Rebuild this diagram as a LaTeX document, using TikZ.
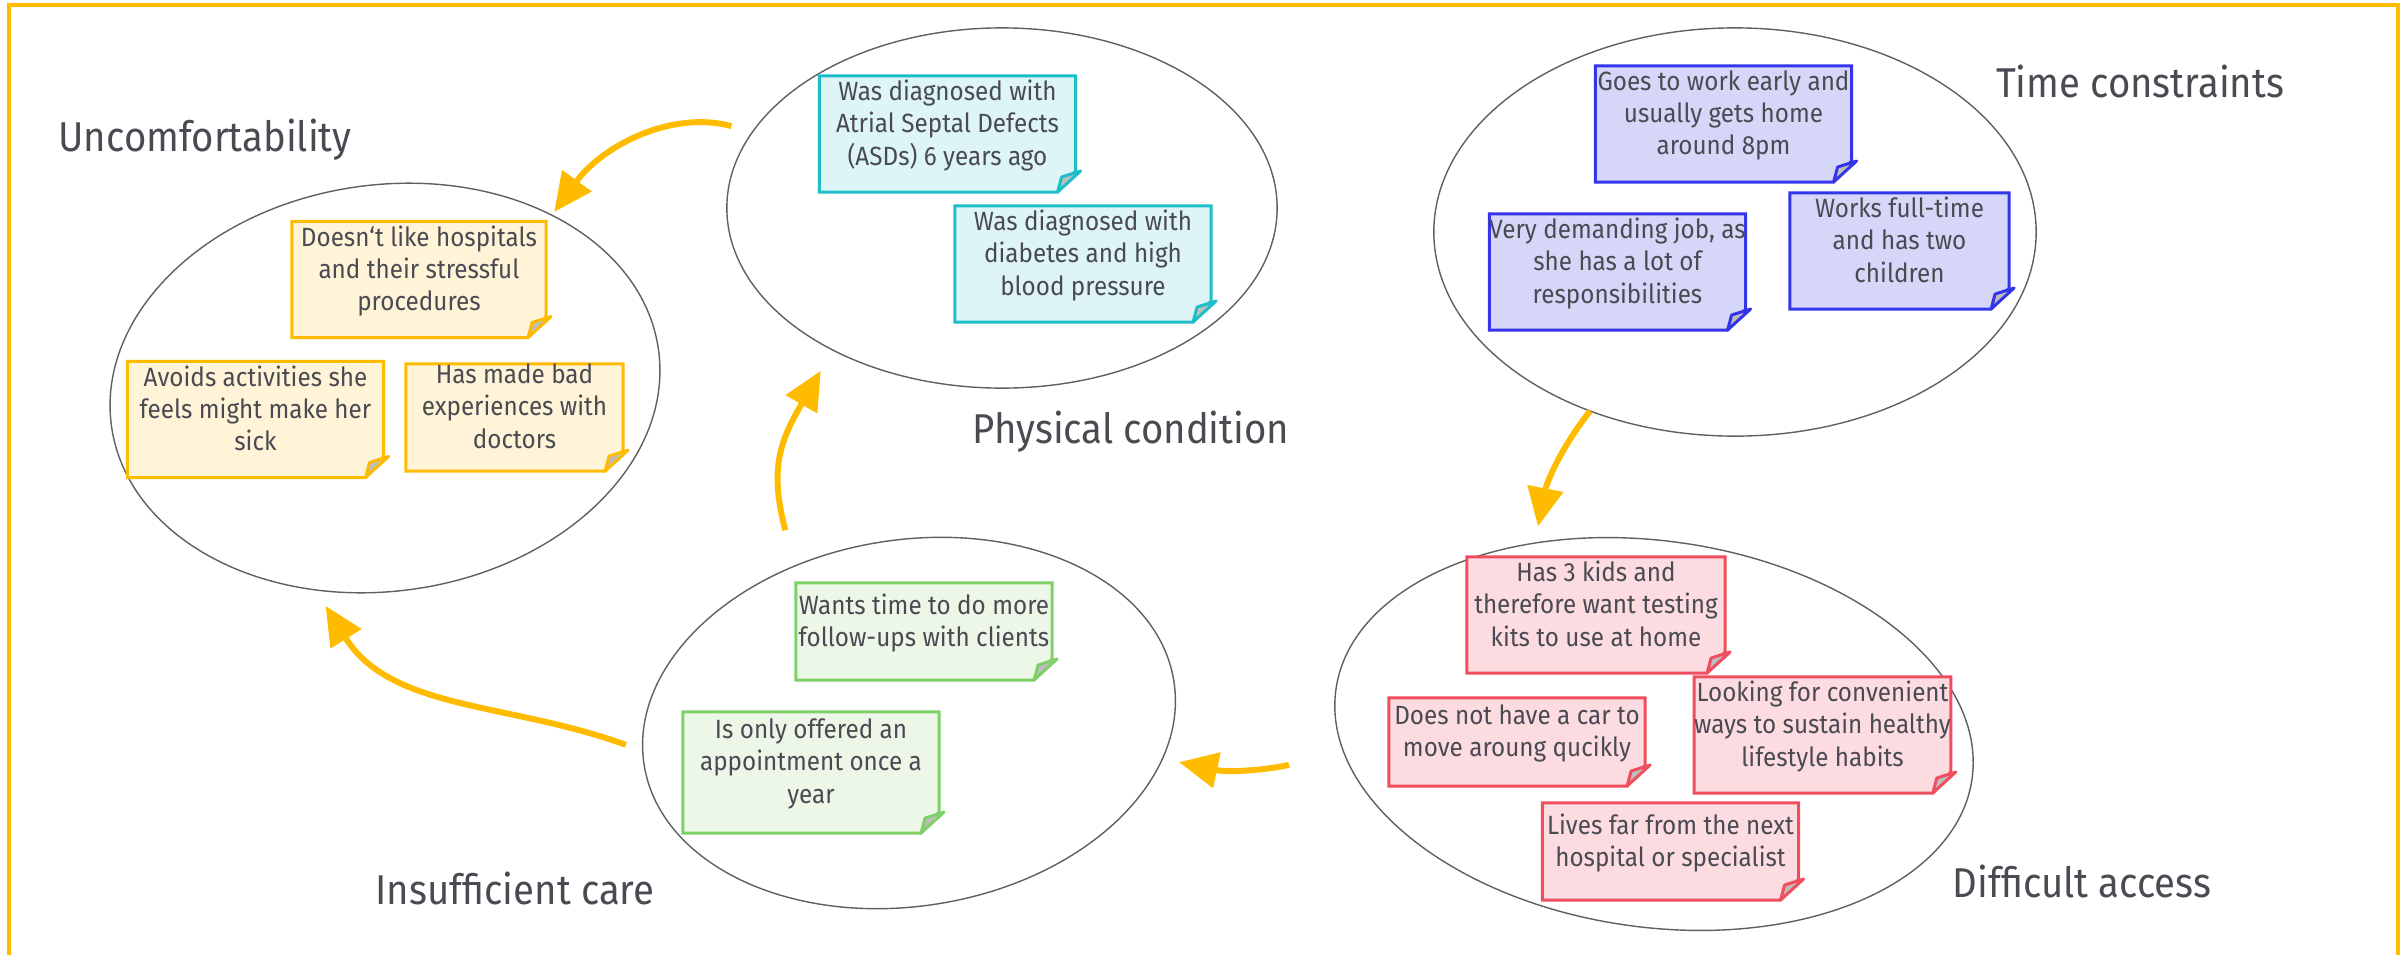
\documentclass[tikz,border=0pt]{standalone}
\usepackage{fontspec}
\setmainfont{Fira Sans}[FakeStretch=0.92]
\usetikzlibrary{arrows.meta,shapes.geometric}
\pgfdeclarelayer{paper}
\pgfsetlayers{paper,main}
\definecolor{yl}{RGB}{255,187,0}
\definecolor{ylfill}{RGB}{255,244,216}
\definecolor{tl}{RGB}{28,190,200}
\definecolor{tlfill}{RGB}{221,245,247}
\definecolor{bl}{RGB}{52,52,235}
\definecolor{blfill}{RGB}{214,214,248}
\definecolor{gn}{RGB}{128,208,106}
\definecolor{gnfill}{RGB}{237,247,232}
\definecolor{rd}{RGB}{240,78,94}
\definecolor{rdfill}{RGB}{252,220,225}
\definecolor{txt}{RGB}{74,74,82}
\definecolor{foldgray}{RGB}{190,190,190}
\begin{document}
\begin{tikzpicture}[x=0.01cm,y=-0.01cm,
  group/.style={ellipse,draw=gray!75!black,line width=0.4pt,inner sep=0pt,outer sep=0pt},
  note/.style={inner sep=0pt,outer sep=0pt,align=center,text=txt,text depth=6.5pt,
    font=\fontsize{7.5}{9.2}\selectfont,minimum width=2.56cm,minimum height=1.16cm},
  heading/.style={text=txt,font=\fontsize{11.85}{14}\selectfont,inner sep=0pt},
  flow/.style={draw=yl,line width=1.7pt,-{Triangle[length=11pt,width=10pt]}}]
                  \useasboundingbox (0,0) rectangle (2405,954);
                  \draw [yl,line width=1.14pt] (9,5) rectangle (2398,1000);
                  \begin{pgfonlayer}{paper}
                  \node [group,minimum width=5.52cm,minimum height=4.06cm,rotate=8] (unc) at (385,388) {};
                  \node [group,minimum width=5.5cm,minimum height=3.6cm] (phys) at (1002,208) {};
                  \node [group,minimum width=6.02cm,minimum height=4.08cm] (time) at (1735,232) {};
                  \node [group,minimum width=5.36cm,minimum height=3.66cm,rotate=9] (care) at (909,723) {};
                  \node [group,minimum width=6.42cm,minimum height=3.86cm,rotate=-8] (acc) at (1654,734) {};
                  \end{pgfonlayer}
                  \node [heading] (hunc) at (205,140) {Uncomfortability};
                  \node [heading] (hphys) at (1131,432) {Physical condition};
                  \node [heading] (htime) at (2140,81) {Time constraints};
                  \node [heading] (hacc) at (2082,881) {Difficult access};
                  \node [heading] (hcare) at (515,888) {Insufficient care};
                  \node [note,minimum width=2.54cm] (u1) at (419,279.5) {Doesn‘t like hospitals\\and their stressful\\procedures};
                  \node [note] (u2) at (255.5,419.5) {Avoids activities she\\feels might make her\\sick};
                  \node [note,minimum width=2.17cm,minimum height=1.07cm] (u3) at (514.5,417.5) {Has made bad\\experiences with\\doctors};
                  \node [note] (p1) at (947.5,134) {Was diagnosed with\\Atrial Septal Defects\\(ASDs) 6 years ago};
                  \node [note] (p2) at (1083,264) {Was diagnosed with\\diabetes and high\\blood pressure};
                  \node [note] (t1) at (1723.5,124) {Goes to work early and\\usually gets home\\around 8pm};
                  \node [note] (t2) at (1617.5,272) {Very demanding job, as\\she has a lot of\\responsibilities};
                  \node [note,minimum width=2.19cm] (t3) at (1899.5,251) {Works full-time\\and has two\\children};
                  \node [note,minimum height=0.97cm] (c1) at (924,631.5) {Wants time to do more\\follow-ups with clients};
                  \node [note,minimum height=1.21cm] (c2) at (811,772.5) {Is only offered an\\appointment once a\\year};
                  \node [note,minimum width=2.58cm] (a1) at (1596,615) {Has 3 kids and\\therefore want testing\\kits to use at home};
                  \node [note,minimum height=0.88cm] (a2) at (1517,742) {Does not have a car to\\move aroung qucikly};
                  \node [note] (a3) at (1822.5,735) {Looking for convenient\\ways to sustain healthy\\lifestyle habits};
                  \node [note,minimum height=0.97cm] (a4) at (1670.5,851.5) {Lives far from the next\\hospital or specialist};
                  \foreach \n/\c in {u1/yl,u2/yl,u3/yl,p1/tl,p2/tl,t1/bl,t2/bl,t3/bl,c1/gn,c2/gn,a1/rd,a2/rd,a3/rd,a4/rd} {
                    \begin{pgfonlayer}{paper}
                    \filldraw [fill=\c fill,draw=\c,line width=0.85pt] (\n.north west) -- (\n.north east) -- ([shift={(0,-21)}]\n.south east) -- ([shift={(-18,0)}]\n.south east) -- (\n.south west) -- cycle;
                    \end{pgfonlayer}
                    \filldraw [fill=foldgray,draw=\c,line width=0.85pt,line join=round] ([shift={(5,-21)}]\n.south east) -- ([shift={(-18,0)}]\n.south east) -- ([shift={(-14,-15)}]\n.south east) -- cycle;
                  }
                  \draw [flow,shorten <=0.22cm,shorten >=0.04cm] (phys.163) to[out=165,in=54] (unc.38);
                  \draw [flow,shorten <=0.37cm,shorten >=0.24cm] (care.117) to[out=105,in=240,looseness=1.2] (phys.220);
                  \draw [flow,shorten >=0.17cm] (time.231) to[out=232,in=79] (acc.130);
                  \draw [flow,shorten <=0.56cm,shorten >=0.17cm] (acc.191) to[out=195,in=348] (care.343);
                  \draw [flow,shorten <=0.18cm,shorten >=0.19cm] (care.177) to[out=160,in=302] (unc.243);
              \end{tikzpicture}
\end{document}
